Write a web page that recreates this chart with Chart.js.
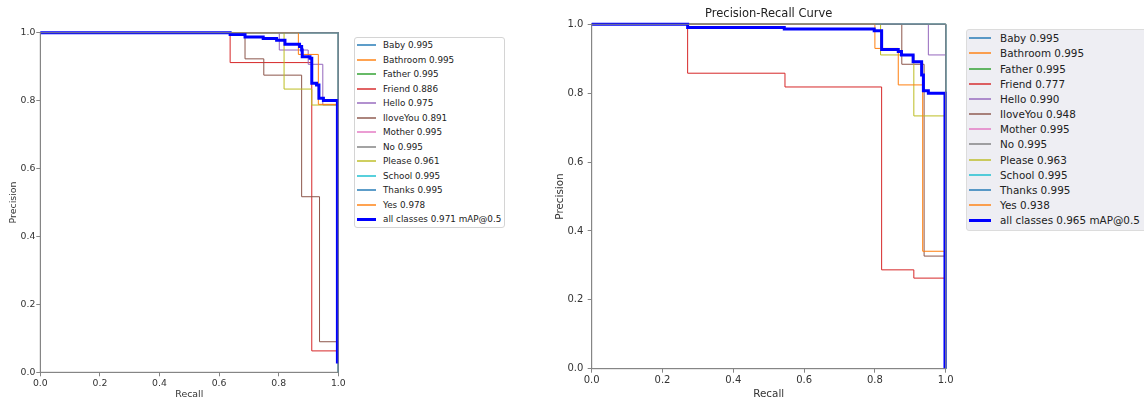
<!DOCTYPE html>
<html>
<head>
<meta charset="utf-8">
<script src="https://cdn.jsdelivr.net/npm/chart.js@4.4.1/dist/chart.umd.min.js"></script>
<style>
  html, body { margin: 0; padding: 0; background: #fff; overflow: hidden; width: 1144px; height: 398px; position: relative; font-family: "DejaVu Sans", sans-serif; }
  canvas { position: absolute; top: 0; }
  .legend { position: absolute; box-sizing: border-box; }
  .legend .row { position: absolute; left: 0; white-space: nowrap; color: #222; }
  .legend .sw { position: absolute; }
</style>
</head>
<body>
<canvas id="chartLeft" width="350" height="404" style="left:0px"></canvas>
<canvas id="chartRight" width="420" height="404" style="left:540px"></canvas>
<div class="legend" id="legendLeft" style="left:354px;top:37px;width:151px;height:191px;border:1px solid #d4d4d4;border-radius:3px;background:#fff"></div>
<div class="legend" id="legendRight" style="left:966px;top:29px;width:190px;height:202px;border:1px solid #dcdcdc;border-radius:3px;background:#eeeef3"></div>
<script>
// ---- data ----
const classNames = ['Baby', 'Bathroom', 'Father', 'Friend', 'Hello', 'IloveYou', 'Mother', 'No', 'Please', 'School', 'Thanks', 'Yes'];
const apLeft  = [0.995, 0.995, 0.995, 0.886, 0.975, 0.891, 0.995, 0.995, 0.961, 0.995, 0.995, 0.978];
const apRight = [0.995, 0.995, 0.995, 0.777, 0.990, 0.948, 0.995, 0.995, 0.963, 0.995, 0.995, 0.938];
const mapLeft = 0.971;
const mapRight = 0.965;
const axisTicks = [0, 0.2, 0.4, 0.6, 0.8, 1.0];

// step curves as [recall, precision]: precision holds until the next recall value
const perfect = [[0, 1], [1, 1], [1, 0]];

const friendL   = [[0, 1], [0.637, 0.912], [0.911, 0.063], [1, 0.063]];
const helloL    = [[0, 1], [0.802, 0.949], [0.899, 0.907], [0.948, 0.787], [1, 0.787]];
const iloveyouL = [[0, 1], [0.687, 0.923], [0.750, 0.875], [0.877, 0.517], [0.937, 0.090], [1, 0.090]];
const pleaseL   = [[0, 1], [0.818, 0.834], [0.911, 0.787], [1, 0.787]];
const yesL      = [[0, 1], [0.866, 0.936], [0.933, 0.789], [1, 0.789]];
const allL = [[0, 1], [0.637, 0.995], [0.687, 0.987], [0.748, 0.983], [0.793, 0.978], [0.821, 0.966],
  [0.870, 0.959], [0.877, 0.949], [0.879, 0.929], [0.905, 0.925], [0.911, 0.851], [0.927, 0.846],
  [0.935, 0.807], [0.950, 0.800], [0.997, 0.026]];

const friendR   = [[0, 1], [0.271, 0.858], [0.546, 0.818], [0.819, 0.287], [0.910, 0.263], [1, 0.263]];
const helloR    = [[0, 1], [0.951, 0.911], [1, 0.911]];
const iloveyouR = [[0, 1], [0.876, 0.884], [0.939, 0.327], [1, 0.327]];
const pleaseR   = [[0, 1], [0.816, 0.911], [0.910, 0.734], [1, 0.734]];
const yesR      = [[0, 1], [0.800, 0.930], [0.866, 0.824], [0.935, 0.341], [1, 0.341]];
const allR = [[0, 1], [0.271, 0.991], [0.544, 0.986], [0.798, 0.981], [0.819, 0.927], [0.866, 0.921],
  [0.875, 0.911], [0.908, 0.891], [0.932, 0.853], [0.937, 0.807], [0.951, 0.800], [0.998, 0]];

const curvesLeft  = [perfect, perfect, perfect, friendL, helloL, iloveyouL, perfect, perfect, pleaseL, perfect, perfect, yesL];
const curvesRight = [perfect, perfect, perfect, friendR, helloR, iloveyouR, perfect, perfect, pleaseR, perfect, perfect, yesR];

const classColors = ['#1f77b4', '#ff7f0e', '#2ca02c', '#d62728', '#9467bd', '#8c564b',
  '#e377c2', '#7f7f7f', '#bcbd22', '#17becf', '#1f77b4', '#ff7f0e'];
const allColor = '#0000ff';

// ---- plugins ----
const framePlugin = {
  id: 'frame',
  afterDatasetsDraw(chart) {
    const a = chart.chartArea, ctx = chart.ctx;
    ctx.save();
    ctx.strokeStyle = '#858585';
    ctx.lineWidth = 1;
    ctx.strokeRect(a.left, a.top, a.right - a.left, a.bottom - a.top);
    ctx.restore();
  }
};
const topTitle = {
  id: 'topTitle',
  afterDraw(chart, args, opts) {
    if (!opts.text) return;
    const a = chart.chartArea, ctx = chart.ctx;
    ctx.save();
    ctx.font = opts.size + 'px "DejaVu Sans"';
    ctx.fillStyle = '#222';
    ctx.textAlign = 'center';
    ctx.textBaseline = 'middle';
    ctx.fillText(opts.text, (a.left + a.right) / 2, opts.y);
    ctx.restore();
  }
};

function buildChart(id, curves, aps, mAP, cfg) {
  const datasets = curves.map((c, i) => ({
    label: classNames[i] + ' ' + aps[i].toFixed(3),
    data: c.map(p => ({ x: p[0], y: p[1] })),
    borderColor: classColors[i],
    borderWidth: 1,
  }));
  datasets.push({
    label: 'all classes ' + mAP.toFixed(3) + ' mAP@0.5',
    data: cfg.all.map(p => ({ x: p[0], y: p[1] })),
    borderColor: allColor,
    borderWidth: 3,
  });
  datasets.forEach((d, i) => {
    d.order = datasets.length - i;
    d.stepped = 'before';
    d.pointRadius = 0;
    d.tension = 0;
    d.fill = false;
    d.clip = false;
  });

  const tickFont = { family: 'DejaVu Sans', size: cfg.tickSize };
  const titleFont = { family: 'DejaVu Sans', size: cfg.labelSize };

  return new Chart(document.getElementById(id), {
    type: 'line',
    data: { datasets: datasets },
    options: {
      responsive: false,
      animation: false,
      events: [],
      layout: { padding: { left: 0, top: cfg.padTop, right: cfg.padRight, bottom: 0 } },
      plugins: {
        legend: { display: false },
        tooltip: { enabled: false },
        topTitle: { text: cfg.title, size: 11.5, y: 14 }
      },
      scales: {
        x: {
          type: 'linear', min: 0, max: 1,
          afterBuildTicks: s => { s.ticks = axisTicks.map(v => ({ value: v })); },
          afterFit: s => { s.height = cfg.xHeight; },
          ticks: { font: tickFont, color: '#333', padding: cfg.xPad, maxRotation: 0, callback: v => v.toFixed(1) },
          grid: { drawOnChartArea: false, tickLength: 4, color: '#858585' },
          border: { color: '#858585' },
          title: { display: true, text: 'Recall', font: titleFont, color: '#333', padding: { top: 0, bottom: cfg.xTitlePad } }
        },
        y: {
          type: 'linear', min: 0, max: 1,
          afterBuildTicks: s => { s.ticks = axisTicks.map(v => ({ value: v })); },
          afterFit: s => { s.width = cfg.yWidth; },
          ticks: { font: tickFont, color: '#333', padding: cfg.yPad, callback: v => v.toFixed(1) },
          grid: { drawOnChartArea: false, tickLength: 4, color: '#858585' },
          border: { color: '#858585' },
          title: { display: true, text: 'Precision', font: titleFont, color: '#333', padding: { top: cfg.yTitlePad, bottom: 0 } }
        }
      }
    },
    plugins: [framePlugin, topTitle]
  });
}

function buildLegend(id, aps, mAP, cfg) {
  const box = document.getElementById(id);
  const labels = classNames.map((n, i) => n + ' ' + aps[i].toFixed(3));
  labels.push('all classes ' + mAP.toFixed(3) + ' mAP@0.5');
  labels.forEach((t, i) => {
    const cy = cfg.first + i * cfg.step;
    const isAll = i === classNames.length;
    const sw = document.createElement('div');
    sw.className = 'sw';
    const h = isAll ? 3 : 2;
    sw.style.cssText = 'left:' + cfg.swLeft + 'px;width:' + cfg.swWidth + 'px;top:' + (Math.round(cy) - 1) + 'px;height:' + h + 'px;background:' +
      (isAll ? allColor : classColors[i]) + ';opacity:' + (isAll ? 1 : 0.72);
    box.appendChild(sw);
    const row = document.createElement('div');
    row.className = 'row';
    row.style.cssText = 'left:' + cfg.textLeft + 'px;top:' + (cy - 7) + 'px;line-height:14px;font-size:' + cfg.size + 'px';
    row.textContent = t;
    box.appendChild(row);
  });
}

buildChart('chartLeft', curvesLeft, apLeft, mapLeft, {
  all: allL, title: '', tickSize: 9.3, labelSize: 9.4,
  padTop: 32.7, padRight: 11.7, xHeight: 31.7, yWidth: 40.3,
  xPad: 2, yPad: 1, xTitlePad: 3.4, yTitlePad: 8
});
buildChart('chartRight', curvesRight, apRight, mapRight, {
  all: allR, title: 'Precision-Recall Curve', tickSize: 10, labelSize: 10.4,
  padTop: 24.3, padRight: 14.3, xHeight: 35.3, yWidth: 51.7,
  xPad: 2, yPad: 4.4, xTitlePad: 3.8, yTitlePad: 13.7
});

buildLegend('legendLeft', apLeft, mapLeft, { first: 7, step: 14.5, swLeft: 2, swWidth: 19, textLeft: 28, size: 8.8 });
buildLegend('legendRight', apRight, mapRight, { first: 8.3, step: 15.15, swLeft: 2, swWidth: 22, textLeft: 33, size: 10.4 });
</script>
</body>
</html>
